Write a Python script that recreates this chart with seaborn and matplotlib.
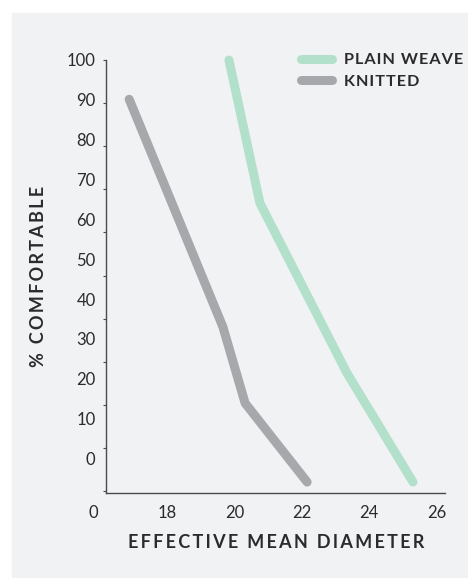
import matplotlib
matplotlib.use("Agg")
import matplotlib.pyplot as plt
from matplotlib.patches import Rectangle
from matplotlib.lines import Line2D
import seaborn as sns
import pandas as pd

# ---- data ----
knitted_x = [16.88, 19.66, 20.32, 22.16]
knitted_y = [90.9, 38.1, 20.4, 2.1]
plain_x = [19.84, 20.76, 23.34, 25.30]
plain_y = [100.0, 66.8, 27.4, 2.1]
series_names = ["PLAIN WEAVE", "KNITTED"]
x_tick_values = [15.81, 18, 20, 22, 24, 26]
x_tick_labels = ["0", "18", "20", "22", "24", "26"]
y_tick_values = list(range(0, 101, 10))
y_tick_labels = [str(v) for v in y_tick_values]
x_title = "EFFECTIVE MEAN DIAMETER"
y_title = "% COMFORTABLE"

df = pd.concat([
    pd.DataFrame({"diameter": plain_x, "comfortable": plain_y, "fabric": series_names[0]}),
    pd.DataFrame({"diameter": knitted_x, "comfortable": knitted_y, "fabric": series_names[1]}),
], ignore_index=True)

# ---- style ----
sns.set_theme(style="ticks")
plt.rcParams["font.family"] = ["Lato", "DejaVu Sans"]
BG = "#f1f2f4"
TXT = "#2b2b2b"
AX = "#4a4a4a"
palette = {series_names[0]: "#b3e0cb", series_names[1]: "#a7a8ac"}

W, H = 468, 578
fig = plt.figure(figsize=(W / 100, H / 100), dpi=100)
fig.patch.set_facecolor("white")
fig.patches.append(Rectangle((12 / W, 0), 1 - 12 / W, (H - 13) / H,
                             transform=fig.transFigure, color=BG, zorder=-10))

def sp(s, sep="\u200a"):
    return sep.join(s)

left_px, right_px, top_px, bot_px = 82.65, 445, 60, 493
ax = fig.add_axes([left_px / W, 1 - bot_px / H, (right_px - left_px) / W, (bot_px - top_px) / H])
ax.set_facecolor("none")

sns.lineplot(data=df, x="diameter", y="comfortable", hue="fabric",
             hue_order=series_names, palette=palette, sort=False,
             linewidth=6.5, solid_capstyle="round", solid_joinstyle="round",
             ax=ax, legend=False, clip_on=False)

ax.set_xlim(15.5, 26.25)
ax.set_ylim(-0.44, 100)
for s in ["top", "right"]:
    ax.spines[s].set_visible(False)
ax.spines["left"].set_position(("data", 16.19))
ax.spines["bottom"].set_bounds(16.19, 26.25)
for s in ["left", "bottom"]:
    ax.spines[s].set_color(AX)
    ax.spines[s].set_linewidth(1.0)

ax.set_yticks(y_tick_values)
ax.tick_params(axis="y", labelleft=False, length=2.5, width=0.8, color=AX, direction="out")
ax.set_xticks(x_tick_values, labels=x_tick_labels)
ax.tick_params(axis="x", length=0, pad=8.5, labelsize=12, labelcolor=TXT)

ax.set_xlabel(sp(x_title, "\u200a\u200a"), fontsize=13, fontweight="bold", color=TXT)
ax.xaxis.set_label_coords((276.5 - left_px) / (right_px - left_px), (bot_px - 543) / (bot_px - top_px))
ax.xaxis.label.set_va("center")
ax.set_ylabel(sp(y_title, "\u200a\u200a"), fontsize=13, fontweight="bold", color=TXT)
ax.yaxis.set_label_coords((39 - left_px) / (right_px - left_px), (bot_px - 276) / (bot_px - top_px))
ax.yaxis.label.set_va("center")

# separate axis carrying the y tick labels (evenly spaced, offset from tick marks)
ax2 = fig.add_axes([106 / W, 1 - bot_px / H, 0.01, (bot_px - top_px) / H])
ax2.set_facecolor("none")
for s in ax2.spines.values():
    s.set_visible(False)
ax2.set_xticks([])
ax2.set_ylim(-8.69, 99.8)
ax2.set_yticks(y_tick_values, labels=y_tick_labels)
ax2.tick_params(axis="y", length=0, pad=7.5, labelsize=12, labelcolor=TXT)

# legend
handles = [Line2D([], [], color=palette[n], linewidth=6.5, solid_capstyle="round") for n in series_names]
leg = fig.legend(handles, [sp(n) for n in series_names], loc="upper left",
                 bbox_to_anchor=(301 / W, 1 - 53 / H), frameon=False,
                 handlelength=1.9, handletextpad=0.75, labelspacing=0.42, borderpad=0,
                 borderaxespad=0, prop={"size": 11.7, "weight": "bold"})
for t in leg.get_texts():
    t.set_color(TXT)

fig.savefig("out.png", dpi=100, facecolor=fig.get_facecolor())
